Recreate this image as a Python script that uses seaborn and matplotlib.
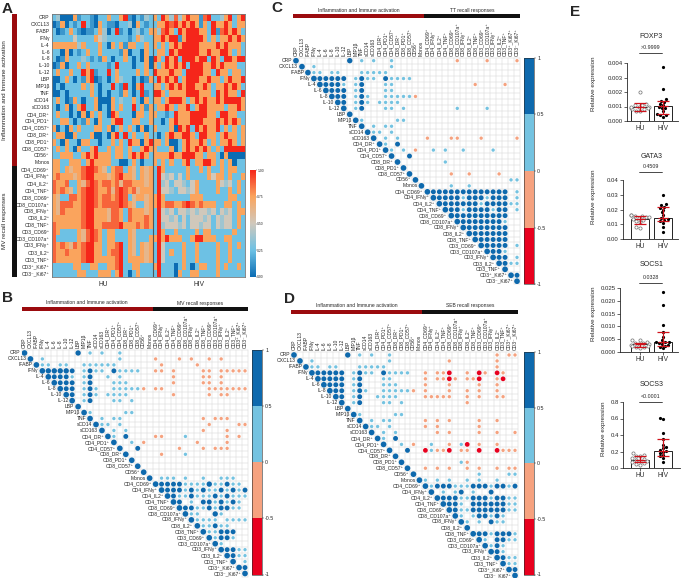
import numpy as np
import pandas as pd
import matplotlib
matplotlib.use("Agg")
import matplotlib.pyplot as plt
import seaborn as sns
from matplotlib.colors import LinearSegmentedColormap, ListedColormap, BoundaryNorm
from matplotlib.cm import ScalarMappable
from matplotlib.patches import Rectangle
from matplotlib.transforms import blended_transform_factory

sns.set_style("white")
plt.rcParams['font.family'] = ['Liberation Sans', 'DejaVu Sans']

# ---------------- data ----------------
variables = ["CRP", "CXCL13", "IFABP", "IFNγ", "IL-4", "IL-6", "IL-8", "IL-10", "IL-12", "LBP",
             "MIP1β", "TNF", "sCD14", "sCD163", "CD4_DR⁺", "CD4_PD1⁺", "CD4_CD57⁺", "CD8_DR⁺",
             "CD8_PD1⁺", "CD8_CD57⁺", "CD56⁺", "Monos",
             "CD4_CD69⁺", "CD4_IFNγ⁺", "CD4_IL2⁺", "CD4_TNF⁺", "CD8_CD69⁺", "CD8_CD107a⁺",
             "CD8_IFNγ⁺", "CD8_IL2⁺", "CD8_TNF⁺", "CD3_CD69⁺", "CD3_CD107a⁺", "CD3_IFNγ⁺",
             "CD3_IL2⁺", "CD3_TNF⁺", "CD3⁺_Ki67⁺", "CD3⁻_Ki67⁺"]
n_inflam = 22

# heatmap A: scaled values, one digit per subject (0 = 0.00 ... 8 = 1.00)
hm_HU = ["230006122102262268102132", "016021282106211022306212", "201262101126302812023126",
         "222224222264322222126322", "666666362226206261662262", "220602126226222216022062",
         "201622232121620226202060", "016022626222212822202260", "262262286812282622226262",
         "002620216801202632202016", "020222262620228218206822", "002022222620202216202812",
         "262016202260006232262062", "202602682260206262282616", "262202060626208622206626",
         "226620216206226882266226", "602062622266260262620602", "266006222600206828262262",
         "620622066220226262866068", "262620622682262662622686", "226662268686662662686862",
         "662266626866662200262022",
         "662656678876526772652656", "676665678866656786652656", "766722657876776757766656",
         "767652678876675787675666", "652277678876776787256656", "657776678876777787652256",
         "657666678866657762766656", "666666678866657762766676", "766666678866777786667676",
         "762222657876266222652222", "722222657876266222652226", "767657678866266782652656",
         "766766678866267782652656", "766666678866666782666656", "222226622662266782266222",
         "222222662226662682026222"]
hm_HIV = ["6286373686617822368268", "2668786868616286686266", "6378628688866281786862",
          "6686881688886262668686", "6262686888866668686662", "2662868888866866886262",
          "8628682888688286288688", "6268686828886686866622", "8666866288886628662662",
          "2868682688866866268668", "6626868688668626686862", "8862666688866628686628",
          "6626888626868668688886", "2668626682688666626686", "6221286668888662886622",
          "2202686668886668686862", "6222608682868668262626", "2026866886288662686626",
          "6626002686686262668626", "6222602686868626288888", "6666866888662662060000",
          "6262622682668862626022",
          "2862222262262622626622", "2843424262222646626226", "2834244324622226434262",
          "2844324434622226226262", "6862222226662222226622", "6867766787676662266262",
          "2843424434344342434266", "2844342424443424344262", "2834443424434424344262",
          "2862262222626622222622", "6868666226886662266222", "2842222622622226226262",
          "2842622622622226226222", "2842222622622226226222", "6822202620266226262262",
          "2822206226622226222222"]

# significant correlations per row: "<column><code>", diagonal added as r = 1
code_r = {"B": 0.9, "D": 0.75, "b": 0.35, "o": -0.35, "R": -0.7}

B_sig = ["9B 11b 13b 16b", "3b 16b 22o 26o 28o 31o 33o",
         "3b 4b 6b 7b 10b 11b 12b 13b 14b 15b 23o 29o",
         "4B 5B 6B 7B 8D 10b 11D 12b 13b 15D 16b 17b 18b 19b 22o 23o 25o 30o 31o 33o 34o 35o 36o 37o",
         "5D 6D 7D 8b 10b 11D 14b 16b 25o 30o 31o 33o",
         "6D 7D 8D 10b 11D 15b 16b 17b 25o 30o 31o 33o",
         "7D 8D 10b 11D 12b 15b 16b 17b 18b 19b 20o 22o 23o 31o 32o 33o 34o 35o 36o 37o",
         "8D 10b 11D 12b 14b 15b 16b 17b 25o 31o 33o 34o",
         "10b 11D 15b 16b 18b", "", "11b 17b 18b", "13b 15b 16b 30o 32o 33o 34o",
         "13b 14b 16b 31o 36o 37o", "15b 17b 30o 34o", "15b 17D 22o 23o 27b 34o 36o",
         "18b 20o 29o 34o", "19D 26o 30o 32o 33o 34o", "23o 27b", "", "", "",
         "23b 24b 25b 27b 30b 33b 34b 35b",
         "23D 24D 25D 26D 27b 28b 29b 30b 31B 32b 33b 34D 35b 36b",
         "24D 25D 26D 27b 28D 29b 30D 31b 32b 33D 34b 35D 36b 37D",
         "25D 26b 27b 28D 29b 30b 31b 32D 33b 34D 35b 36b 37b",
         "26D 28b 30D 31D 32b 33D 34b 35D 36b",
         "27D 28D 29b 30b 31D 32b 33D 34D 35b 36b", "28b 29b 32B 33b",
         "29b 30b 31b 32b 34b 35b 36b 37b", "30b 31b 32D 33b 34b", "31b 32b 33D 34D 35D",
         "32b 33D 34D 35b", "33b", "34D 35D 36b 37b", "35D 36b 37b", "37b", "37D", ""]

C_sig = ["9B 11b 13b 16b 27o 32o 37o", "3b 16b", "3b 4b 6b 7b 11b 12b 13b 14b 15b",
         "4D 5D 6D 7D 8D 10b 11D 12b 13b 15D 16b 17b 18b 19b",
         "5D 6D 7D 8b 10b 11D 15b 16b 30o 35o", "6D 7D 8D 10b 11D 15b 16b",
         "7D 8D 10b 11D 12b 15b 16b 17b 18b 19b 20o", "8D 10b 11D 12b 14b 15b 16b 17b",
         "10b 11D 15b 16b 18b 27b 32b", "", "11b 17b 18b", "13b 15b 16b", "13b 14b 16b",
         "15b 17b 22o 26o 27o 31o 37o", "15b 17D", "16b 18b 20o 23b 25b 28b 33b", "19D",
         "25b", "", "26o 29o 34o", "36b 37b", "26b 29b",
         "23D 24D 25D 26D 27D 28D 29D 30D 31D 32D 33D 34D 35D 37b",
         "24D 25D 26D 27D 28b 29D 30D 31D 32b 33D 34D 35D 37b",
         "25D 26D 27D 28D 29D 30D 31b 32D 33D 34D 35D 36b 37b",
         "26D 27D 28b 29D 30D 31D 32D 33b 34D 35D 37b",
         "27D 28D 29D 30D 31D 32D 33D 34D 35D", "28D 29D 30D 31D 32D 33D 34D 35b",
         "29D 30D 31D 32D 33D 34D 35D", "30D 31D 32D 33D 34D 35D", "31D 32D 33D 34D 35D",
         "32D 33D 34D 35D 37b", "33D 34D 35b", "34D 35D 37b", "35D 36b 37b", "", "37D", ""]

D_sig = ["9B 11b 13b 16b 34o 36o 37o", "3b 16b 26o 34o", "3b 4b 6b 7b 11b 12b 13b 14b 15b 34o",
         "4D 5D 6D 7D 8D 10b 11D 12b 13b 15D 16b 17b 18b 19b 22o 24o 25o 26R 29o 31R 32o 34R 35o",
         "5D 6D 7D 8D 10b 11D 15b 16b 22o 24o 25o 26R 27o 29o 30o 31R 34o 35R",
         "6D 7D 8D 10b 11D 15b 16b 17b 22o 26o 31o 34o",
         "7D 8D 10b 11D 12b 15b 16b 17b 18b 19b 20o 22o 26o 29o 31o 34o",
         "8D 10b 11D 14b 15b 16b 17b 22o 23o 24o 25o 26o 29o 31o 34o 35o",
         "10b 11D 15b 16b 18b 29o", "", "11b 17b 18b", "13b 15b 16b 22o 24o 26o 31o 34o",
         "13b 14b 16b 22o 24o 31o", "15b 17b 24o 26o 31o 34o 37o", "15b 17D",
         "18b 20o 23b 26o 28b 29R 31o 34o",
         "19D 22R 23b 24o 25o 26R 28o 29o 31R 34R 35o 36o 37o", "", "28b 29o",
         "22o 24o 26o 29o 31o 34o 36o 37o", "31b 36b 37b", "22b 24b 26b 29b 31b 34b",
         "23b 24D 25D 26D 27b 28b 29b 30D 31D 32D 33b 34D 35D 36b 37D",
         "25b 27b 28D 30b 33D",
         "25D 26D 27D 28b 29b 30D 31D 32D 33b 34D 35D 36b 37b",
         "26D 27D 28b 30D 31D 32D 33D 34D 35D 36b 37b",
         "27D 28b 29b 30D 31D 32D 33D 34D 35D 36b 37b", "28b 30b 31D 32D 33b 34D 35b",
         "29b 31b 33D 34b 35b", "", "31D 32D 33b 34D 35D 36D 37b", "32b 34D 35D 36b 37b",
         "33b 34D 35b", "34D 35b", "35D 36b 37b", "36b 37b", "37D", ""]

# panel E: relative expression
groups = ["HU", "HIV"]
genes = ["FOXP3", "GATA3", "SOCS1", "SOCS3"]
p_values = [">0.9999", "0.4509", "0.0328", "<0.0001"]
hu_pts = {
    "FOXP3": [0.0020, 0.0012, 0.0011, 0.0010, 0.00095, 0.0009, 0.0009, 0.0008, 0.0008, 0.0007, 0.0007, 0.0011, 0.0010],
    "GATA3": [0.0165, 0.016, 0.0155, 0.015, 0.015, 0.014, 0.0135, 0.013, 0.012, 0.0115, 0.008, 0.0075, 0.0155],
    "SOCS1": [0.0045, 0.0045, 0.004, 0.0035, 0.003, 0.003, 0.0028, 0.0025, 0.002, 0.002, 0.0015, 0.0035, 0.0025],
    "SOCS3": [0.18, 0.16, 0.15, 0.14, 0.12, 0.11, 0.10, 0.09, 0.08, 0.07, 0.06, 0.05, 0.04],
}
hiv_pts = {
    "FOXP3": [0.0037, 0.0022, 0.0015, 0.0014, 0.0013, 0.0012, 0.0011, 0.0010, 0.0009, 0.0007, 0.0005, 0.0004, 0.0003, 0.0004, 0.0009],
    "GATA3": [0.030, 0.024, 0.023, 0.022, 0.021, 0.020, 0.018, 0.016, 0.014, 0.0135, 0.013, 0.012, 0.011, 0.008, 0.005],
    "SOCS1": [0.0235, 0.0185, 0.0105, 0.008, 0.006, 0.0045, 0.004, 0.0038, 0.0035, 0.003, 0.0028, 0.0025, 0.002, 0.0015, 0.004],
    "SOCS3": [0.61, 0.60, 0.42, 0.35, 0.28, 0.25, 0.24, 0.22, 0.21, 0.20, 0.18, 0.16, 0.14, 0.12, 0.07],
}
bar_height = {"FOXP3": [0.00095, 0.00105], "GATA3": [0.0135, 0.014],
              "SOCS1": [0.003, 0.004], "SOCS3": [0.10, 0.21]}
err_low = {"FOXP3": [0.0007, 0.0005], "GATA3": [0.0105, 0.012],
           "SOCS1": [0.002, 0.0025], "SOCS3": [0.07, 0.15]}
err_high = {"FOXP3": [0.00125, 0.0014], "GATA3": [0.0155, 0.022],
            "SOCS1": [0.0035, 0.008], "SOCS3": [0.14, 0.35]}
y_ticks = {"FOXP3": [0, 0.001, 0.002, 0.003, 0.004], "GATA3": [0, 0.01, 0.02, 0.03, 0.04],
           "SOCS1": [0, 0.005, 0.010, 0.015, 0.020, 0.025], "SOCS3": [0, 0.2, 0.4, 0.6, 0.8]}
y_fmt = {"FOXP3": "{:.3f}", "GATA3": "{:.2f}", "SOCS1": "{:.3f}", "SOCS3": "{:.1f}"}

# ---------------- layout ----------------
W, H = 683, 578
fig = plt.figure(figsize=(W / 100, H / 100), dpi=100)


def box(x0, y0, x1, y1):
    return [x0 / W, 1 - y1 / H, (x1 - x0) / W, (y1 - y0) / H]


def letter(x, y, s):
    fig.text(x / W, 1 - y / H, s, fontsize=11, fontweight="bold", va="top", ha="left")


dark_red = "#9B0B0E"
corr_colors = ["#E8001E", "#F6A27F", "#74C3E1", "#0E69AD"]
corr_pal = {"n2": corr_colors[0], "n1": corr_colors[1], "p1": corr_colors[2], "p2": corr_colors[3]}

# ---------------- A: heatmap ----------------
axA = fig.add_axes(box(52, 14, 245, 277))
caxA = fig.add_axes(box(250, 170, 255.5, 277))
hm = pd.DataFrame([[int(c) / 8 for c in a + b] for a, b in zip(hm_HU, hm_HIV)], index=variables)
cmapA = LinearSegmentedColormap.from_list("a", ["#0B6CB3", "#6DC1E4", "#D0C8BC", "#FAA55E", "#F5261A"])
sns.heatmap(hm, ax=axA, cmap=cmapA, vmin=0, vmax=1, cbar_ax=caxA, xticklabels=False,
            yticklabels=variables, cbar_kws={"ticks": [0, 0.25, 0.5, 0.75, 1]})
axA.tick_params(axis="y", labelsize=3.6, length=1.2, width=0.3, pad=0.6)
for sp in axA.spines.values():
    sp.set_visible(True)
    sp.set_color("#777777")
    sp.set_linewidth(0.6)
axA.axvline(len(hm_HU[0]), color="#555555", lw=0.8)
caxA.tick_params(labelsize=2.4, length=0.8, width=0.3, pad=0.5)
caxA.set_yticklabels(["0.00", "0.25", "0.50", "0.75", "1.00"])
fig.text(103 / W, 1 - 284 / H, "HU", fontsize=4.8, ha="center", va="center")
fig.text(199 / W, 1 - 284 / H, "HIV", fontsize=4.8, ha="center", va="center")

axBar = fig.add_axes(box(12, 14, 17, 277))
axBar.set_xlim(0, 1)
axBar.set_ylim(len(variables), 0)
axBar.add_patch(Rectangle((0, 0), 1, n_inflam, color=dark_red, lw=0))
axBar.add_patch(Rectangle((0, n_inflam), 1, len(variables) - n_inflam, color="#111111", lw=0))
axBar.axis("off")
fig.text(5 / W, 1 - 90 / H, "Inflammation and Immune activation", rotation=90, fontsize=4.5,
         ha="center", va="center")
fig.text(5 / W, 1 - 221 / H, "MV recall responses", rotation=90, fontsize=4.5,
         ha="center", va="center")


# ---------------- B, C, D: correlation plots ----------------
def corr_panel(sig, grid, cbar_x, cbar_y1, bar_y, text_y, right_title):
    x0, y0, x1, y1 = grid
    n = len(variables)
    cell = (x1 - x0) / n
    ax = fig.add_axes(box(x0, y0, x1, y1))
    rows = []
    for i, s in enumerate(sig):
        rows.append((i, i, 1.0))
        for tok in s.split():
            rows.append((i, int(tok[:-1]), code_r[tok[-1]]))
    df = pd.DataFrame(rows, columns=["row", "col", "r"])
    df["absr"] = df["r"].abs()
    df["cls"] = np.select([df.r < -0.5, df.r < 0, df.r <= 0.5], ["n2", "n1", "p1"], "p2")
    smax = (cell * 0.95 * 0.72) ** 2
    # grid of the upper triangle
    for i in range(n + 1):
        xs = -0.5 if i == 0 else i - 1.5
        ax.plot([xs, n - 0.5], [i - 0.5, i - 0.5], color="#D4D4D4", lw=0.35, clip_on=False, zorder=1)
        ye = n - 0.5 if i == n else i + 0.5
        ax.plot([i - 0.5, i - 0.5], [-0.5, ye], color="#D4D4D4", lw=0.35, clip_on=False, zorder=1)
    sns.scatterplot(data=df, x="col", y="row", hue="cls", palette=corr_pal, size="absr",
                    sizes=(0, smax), size_norm=(0, 1), linewidth=0, legend=False, ax=ax, zorder=3)
    ax.set_xlim(-0.5, n - 0.5)
    ax.set_ylim(n - 0.5, -0.5)
    ax.axis("off")
    for i, name in enumerate(variables):
        ax.text(i - 0.65, i, name, ha="right", va="center", fontsize=3.6, clip_on=False)
        ax.text(i, -0.8, name, ha="center", va="bottom", rotation=90, fontsize=3.6, clip_on=False)
    yb0 = (bar_y[0] - y0) / cell - 0.5
    yb1 = (bar_y[1] - y0) / cell - 0.5
    ax.add_patch(Rectangle((-0.5, yb0), n_inflam, yb1 - yb0, color=dark_red, lw=0, clip_on=False))
    ax.add_patch(Rectangle((n_inflam - 0.5, yb0), n - n_inflam, yb1 - yb0, color="#111111",
                           lw=0, clip_on=False))
    yt = (text_y - y0) / cell - 0.5
    ax.text((n_inflam - 1) / 2, yt, "Inflammation and Immune activation", ha="center",
            va="center", fontsize=3.6, clip_on=False)
    ax.text(n_inflam - 0.5 + (n - n_inflam) / 2, yt, right_title, ha="center", va="center",
            fontsize=3.6, clip_on=False)
    cax = fig.add_axes(box(cbar_x, y0, cbar_x + 10, cbar_y1))
    sm = ScalarMappable(norm=BoundaryNorm([-1, -0.5, 0, 0.5, 1], 4), cmap=ListedColormap(corr_colors))
    cb = fig.colorbar(sm, cax=cax, ticks=[-1, -0.5, 0, 0.5, 1])
    cb.ax.set_yticklabels(["-1", "-0.5", "0", "0.5", "1"])
    cb.ax.tick_params(labelsize=3.8, length=1.2, width=0.3, pad=1)
    cb.outline.set_linewidth(0.4)


corr_panel(B_sig, (21.5, 350, 248, 576.5), 252, 574.5, (307, 311), 303, "MV recall responses")
corr_panel(C_sig, (293, 57.7, 520, 284.2), 524, 284.2, (14, 18), 10, "TT recall responses")
corr_panel(D_sig, (291, 352, 518, 578.5), 524, 574.5, (310, 313.5), 305, "SEB recall responses")

# ---------------- E: bar charts ----------------
e_boxes = {"FOXP3": (627, 63, 678, 121), "GATA3": (623, 180, 678, 239),
           "SOCS1": (620, 288, 678, 352), "SOCS3": (623, 402, 680, 468)}
ylab_y = {"FOXP3": 84, "GATA3": 197, "SOCS1": 314, "SOCS3": 429}
ylab_x = {"FOXP3": 594, "GATA3": 594, "SOCS1": 593, "SOCS3": 604}
red = "#D0121B"
for gene, pv in zip(genes, p_values):
    x0, y0, x1, y1 = e_boxes[gene]
    ax = fig.add_axes(box(x0, y0, x1, y1))
    bars = pd.DataFrame({"group": groups, "val": bar_height[gene]})
    sns.barplot(data=bars, x="group", y="val", order=groups, color="white", edgecolor="black",
                linewidth=0.6, width=0.8, errorbar=None, ax=ax)
    hu_df = pd.DataFrame({"group": "HU", "val": hu_pts[gene]})
    hiv_df = pd.DataFrame({"group": "HIV", "val": hiv_pts[gene]})
    sns.swarmplot(data=hu_df, x="group", y="val", order=groups, color="white", edgecolor="#707070",
                  linewidth=0.5, size=2.3, ax=ax, zorder=3)
    sns.swarmplot(data=hiv_df, x="group", y="val", order=groups, color="black", size=2.3,
                  ax=ax, zorder=3)
    med = np.array(bar_height[gene])
    lo = med - np.array(err_low[gene])
    hi = np.array(err_high[gene]) - med
    ax.errorbar([0, 1], med, yerr=[lo, hi], fmt="none", ecolor=red, elinewidth=0.9,
                capsize=4.5, capthick=0.9, zorder=4)
    ax.hlines(med, [-0.2, 0.8], [0.2, 1.2], color=red, lw=0.9, zorder=4)
    ax.set_xlim((x0 - 640) / 23, 1 + (x1 - 663) / 23)
    ticks = y_ticks[gene]
    ax.set_ylim(0, ticks[-1])
    ax.set_yticks(ticks)
    ax.set_yticklabels([y_fmt[gene].format(t) for t in ticks])
    ax.set_xlabel("")
    ax.set_ylabel("")
    sns.despine(ax=ax)
    for sp in ["left", "bottom"]:
        ax.spines[sp].set_linewidth(0.6)
    ax.tick_params(axis="y", labelsize=4.3, length=2, width=0.5, pad=1, left=True)
    ax.tick_params(axis="x", labelsize=4.8, length=2, width=0.5, pad=1, bottom=True)
    h = y1 - y0
    tr = blended_transform_factory(ax.transData, ax.transAxes)
    p_line = {"FOXP3": 53, "GATA3": 172, "SOCS1": 283, "SOCS3": 402}[gene]
    title_y = {"FOXP3": 37, "GATA3": 157, "SOCS1": 265, "SOCS3": 385}[gene]
    ly = 1 + (y0 - p_line) / h
    ax.plot([-0.05, 0.97], [ly, ly], color="black", lw=0.5, transform=tr, clip_on=False)
    ax.text(0.46, ly + 3 / h, pv, ha="center", va="bottom", fontsize=3.8, transform=tr)
    ax.text(0.5, 1 + (y0 - title_y) / h, gene, ha="center", va="center", fontsize=5, transform=tr)
    fig.text(ylab_x[gene] / W, 1 - ylab_y[gene] / H, "Relative expression", rotation=90,
             fontsize=4.5, ha="center", va="center")

letter(2, 2, "A")
letter(2, 291, "B")
letter(271, 1, "C")
letter(284, 292, "D")
letter(570, 5, "E")

fig.savefig("out.png", dpi=100)
